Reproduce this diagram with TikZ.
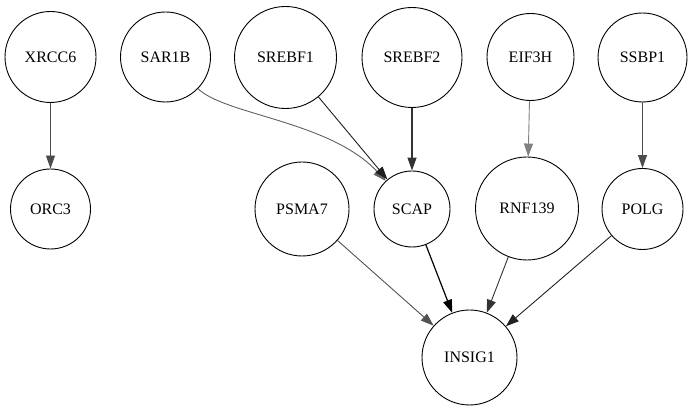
\documentclass[tikz,border=0pt]{standalone}
\usepackage{fontspec}
\setmainfont{Liberation Serif}
\usetikzlibrary{arrows.meta}
\begin{document}
\begin{tikzpicture}[x=1pt,y=1pt,
  gene/.style={draw,circle,line width=0.9pt,inner sep=0pt,font=\fontsize{16}{19}\selectfont},
  link/.style={-{Triangle[length=13pt,width=9pt]},line width=0.9pt}]
\useasboundingbox (0,0) rectangle (692,411);
% top row
\node[gene,minimum size=91pt] (XRCC6) at (50.5,354) {XRCC6};
\node[gene,minimum size=90pt] (SAR1B) at (165.5,354) {SAR1B};
\node[gene,minimum size=102pt] (SREBF1) at (285.5,353.5) {SREBF1};
\node[gene,minimum size=100pt] (SREBF2) at (412,353.5) {SREBF2};
\node[gene,minimum size=87pt] (EIF3H) at (530.5,354) {EIF3H};
\node[gene,minimum size=89pt] (SSBP1) at (642.5,353.5) {SSBP1};
% middle row
\node[gene,minimum size=80pt] (ORC3) at (50.5,202) {ORC3};
\node[gene,minimum size=94pt] (PSMA7) at (302,202) {PSMA7};
\node[gene,minimum size=76pt] (SCAP) at (412,202) {SCAP};
\node[gene,minimum size=103pt] (RNF139) at (527,202.5) {RNF139};
\node[gene,minimum size=81pt] (POLG) at (642.5,202) {POLG};
% bottom
\node[gene,minimum size=95pt] (INSIG1) at (469.5,53.5) {INSIG1};
\draw[link,color=black!70] (XRCC6) -- (ORC3);
\draw[link,color=black!62] (SAR1B) .. controls (225,296) and (330,290) .. (SCAP);
\draw[link,color=black!88] (SREBF1) -- (SCAP);
\draw[link,color=black!80,line width=1.3pt] (SREBF2) -- (SCAP);
\draw[link,color=black!50] (EIF3H) -- (RNF139);
\draw[link,color=black!70] (SSBP1) -- (POLG);
\draw[link,color=black!68] (PSMA7) -- (INSIG1);
\draw[link,color=black,line width=1.2pt] (SCAP) -- (INSIG1);
\draw[link,color=black!80] (RNF139) -- (INSIG1);
\draw[link,color=black!87] (POLG) -- (INSIG1);
\end{tikzpicture}
\end{document}
